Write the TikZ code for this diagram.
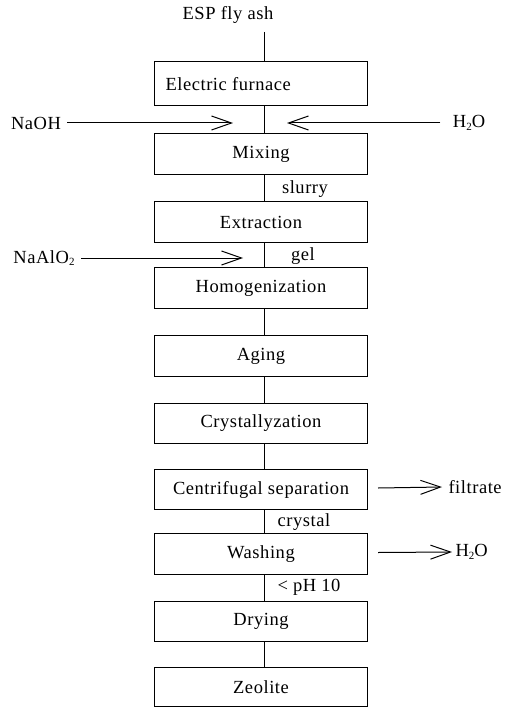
\documentclass[tikz,border=0pt]{standalone}
\usepackage{fontspec}
\setmainfont{Liberation Serif}[LetterSpace=3]
\usetikzlibrary{arrows.meta,calc}
\newcommand{\subsc}[1]{\raisebox{-0.3ex}{\fontsize{11}{11}\selectfont #1}}
\begin{document}
\begin{tikzpicture}[x=1pt,y=-1pt,
  font=\fontsize{18.5}{20}\selectfont,
  line width=1pt,
  procbox/.style={draw,minimum width=213pt,inner sep=0pt,anchor=north west},
  lbl/.style={inner sep=0pt},
  feed/.style={-{Straight Barb[length=20pt,width=14pt,line width=1pt]}}
]
\useasboundingbox (0,0) rectangle (514,708);
% column line x
\coordinate (lx) at (264,0);
% boxes
\node[procbox,minimum height=44pt] (ef) at (154,61) {};
\node[lbl,anchor=west] (eft) at (165,84) {Electric furnace};
\node[procbox,minimum height=41pt] (mix) at (154,133) {};
\node[lbl] at (mix.center) {Mixing};
\node[procbox,minimum height=41pt] (ext) at (154,201) {};
\node[lbl] at (ext.center) {Extraction};
\node[procbox,minimum height=41pt] (hom) at (154,267) {};
\node[lbl] at (hom.center) {Homogenization};
\node[procbox,minimum height=41pt] (age) at (154,335) {};
\node[lbl] at (age.center) {Aging};
\node[procbox,minimum height=40pt] (cry) at (154,403) {};
\node[lbl] at (cry.center) {Crystallyzation};
\node[procbox,minimum height=40pt] (cen) at (154,469) {};
\node[lbl] at (cen.center) {Centrifugal separation};
\node[procbox,minimum height=41pt] (was) at (154,533) {};
\node[lbl] at (was.center) {Washing};
\node[procbox,minimum height=40pt] (dry) at (154,601) {};
\node[lbl] at (dry.center) {Drying};
\node[procbox,minimum height=39pt] (zeo) at (154,667) {};
\node[lbl] at (zeo.center) {Zeolite};
% top input
\node[lbl] (esp) at (228,15) {ESP fly ash};
\coordinate (esp0) at (264,32);
\draw (esp0) -- (ef.north -| lx);
% column connectors
\draw (ef.south -| lx) -- (mix.north -| lx);
\draw (mix.south -| lx) -- (ext.north -| lx);
\draw (ext.south -| lx) -- (hom.north -| lx);
\draw (hom.south -| lx) -- (age.north -| lx);
\draw (age.south -| lx) -- (cry.north -| lx);
\draw (cry.south -| lx) -- (cen.north -| lx);
\draw (cen.south -| lx) -- (was.north -| lx);
\draw (was.south -| lx) -- (dry.north -| lx);
\draw (dry.south -| lx) -- (zeo.north -| lx);
% stream labels
\node[lbl] (slurry) at (305,189) {slurry};
\node[lbl] (gel) at (303,256) {gel};
\node[lbl] (crystal) at (304,522) {crystal};
\node[lbl,anchor=west] (ph) at (277,587) {< pH 10};
% side inputs
\node[lbl] (naoh) at (36,123) {NaOH};
\coordinate (naohE) at (233,123);
\draw[feed] ($(naoh.east)+(6,0)$) -- (naohE);
\node[lbl] (h2oa) at (469,123) {H\subsc{2}O};
\coordinate (h2oaE) at (287,123);
\draw[feed] ($(h2oa.west)+(-12,0)$) -- (h2oaE);
\node[lbl] (naal) at (44,258) {NaAlO\subsc{2}};
\coordinate (naalE) at (243,258);
\draw[feed] ($(naal.east)+(6,0)$) -- (naalE);
% side outputs
\node[lbl,anchor=west] (filt) at (448,487) {filtrate};
\draw[feed] ($(cen.east)+(10,-1.5)$) -- ($(filt.west)+(-6,0)$);
\node[lbl,anchor=west] (h2ob) at (455,552) {H\subsc{2}O};
\draw[feed] ($(was.east)+(10,-1.5)$) -- ($(h2ob.west)+(-3,0)$);
\end{tikzpicture}
\end{document}
